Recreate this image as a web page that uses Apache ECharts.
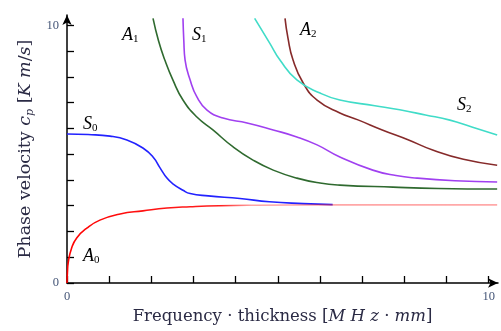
<!DOCTYPE html>
<html>
<head>
<meta charset="utf-8">
<script src="https://cdn.jsdelivr.net/npm/echarts@6.0.0/dist/echarts.min.js"></script>
<style>
html,body{margin:0;padding:0;background:#fff;}
#main{width:501px;height:331px;}
</style>
</head>
<body>
<div id="main"></div>
<script>
// tick values of both axes
var xTicks = [0,1,2,3,4,5,6,7,8,9,10],
	yTicks = [0,1,2,3,4,5,6,7,8,9,10],
	xLabels = [0,10],
	yLabels = [0,10];

// dispersion curves, [fd, cp]
var a0Data = [[0,0],[0.01,0.4],[0.03,0.8],[0.11,1.36],[0.23,1.75],[0.47,2.13],[0.78,2.44],[1.26,2.68],[1.8,2.8],[2.37,2.91],[2.92,2.96],[3.6,3.0],[4.5,3.02],[6,3.03],[8,3.03],[10.2,3.03]],
	s0Data = [[0,5.78],[0.5,5.76],[1.02,5.7],[1.42,5.55],[1.8,5.24],[2.04,4.89],[2.21,4.46],[2.37,4.07],[2.51,3.85],[2.75,3.6],[2.92,3.47],[3.35,3.38],[4.1,3.28],[4.8,3.15],[5.6,3.08],[6.3,3.04]],
	a1Data = [[2.04,10.27],[2.17,9.4],[2.32,8.65],[2.51,7.88],[2.75,7.1],[3.08,6.44],[3.46,5.94],[3.94,5.28],[4.41,4.77],[4.89,4.38],[5.45,4.07],[6.0,3.88],[6.47,3.8],[7.73,3.72],[8.8,3.67],[10.2,3.65]],
	s1Data = [[2.75,10.27],[2.77,9.4],[2.8,8.65],[2.92,7.88],[3.08,7.22],[3.32,6.71],[3.7,6.4],[4.27,6.21],[4.89,5.94],[5.45,5.67],[5.93,5.36],[6.47,4.89],[7.25,4.38],[7.8,4.17],[8.3,4.07],[9.2,3.97],[10.2,3.92]],
	a2Data = [[5.17,10.27],[5.24,9.5],[5.36,8.65],[5.6,7.76],[5.93,7.1],[6.47,6.6],[6.9,6.33],[7.49,5.93],[8.1,5.55],[8.67,5.16],[9.4,4.8],[10.2,4.57]],
	s2Data = [[4.45,10.27],[4.81,9.3],[5.05,8.65],[5.45,7.88],[6.0,7.37],[6.47,7.1],[7.3,6.88],[7.89,6.72],[8.5,6.52],[9.08,6.32],[9.6,6.05],[10.2,5.74]];

var serif = '"Liberation Serif", "DejaVu Serif", serif',
	nameFont = '"DejaVu Serif", serif',
	txtColor = '#2a2a44';

//线条
function curve(name, data, color){
	return {
		name: name,
		type: 'line',
		data: data,
		smooth: 0.5,
		showSymbol: false,
		symbol: 'none',
		clip: false,
		lineStyle: {color: color, width: 1.6}
	};
}

//曲线名字 A_1 S_1 ...
function modeText(main, sub, x, y){
	return {
		type: 'text',
		x: x,
		y: y,
		style: {
			text: '{m|' + main + '}{s|' + sub + '}',
			rich: {
				m: {fontFamily: serif, fontStyle: 'italic', fontSize: 18, color: txtColor, lineHeight: 20},
				s: {fontFamily: serif, fontSize: 11, color: txtColor, verticalAlign: 'bottom', lineHeight: 12}
			}
		}
	};
}

var myChart = echarts.init(document.getElementById('main'));

// A0 变浅
var a0Color = new echarts.graphic.LinearGradient(0, 0, 1, 0, [
	{offset: 0, color: 'rgba(255,0,0,1)'},
	{offset: 0.36, color: 'rgba(255,20,20,0.95)'},
	{offset: 0.43, color: 'rgba(255,40,40,0.42)'},
	{offset: 1, color: 'rgba(255,40,40,0.4)'}
]);

var option = {
	animation: false,
	backgroundColor: '#fff',
	grid: {left: 67, right: 3, top: 15, bottom: 48},
	xAxis: {
		type: 'value',
		min: 0,
		max: 10.22,
		name: 'Frequency · thickness [{i|M H z} · {i|mm}]',
		nameLocation: 'middle',
		nameGap: 19,
		nameTextStyle: {
			fontFamily: nameFont, fontSize: 16.5, color: txtColor, verticalAlign: 'top',
			rich: {i: {fontFamily: nameFont, fontStyle: 'italic', fontSize: 16.5, color: txtColor}}
		},
		axisLine: {show: true, lineStyle: {color: '#000', width: 1.5}, symbol: ['none', 'arrow'], symbolSize: [7, 10]},
		axisTick: {show: true, inside: true, length: 7, lineStyle: {color: '#000', width: 1.3}, customValues: xTicks},
		axisLabel: {fontFamily: serif, fontSize: 12.5, color: '#445577', customValues: xLabels, margin: 7},
		splitLine: {show: false}
	},
	yAxis: {
		type: 'value',
		min: 0,
		max: 10.4,
		name: 'Phase velocity {i|c}{s|p} [{i|K m}/{i|s}]',
		nameLocation: 'middle',
		nameRotate: 90,
		nameGap: 25,
		nameTextStyle: {
			fontFamily: nameFont, fontSize: 17.5, color: txtColor, lineHeight: 20,
			rich: {
				i: {fontFamily: nameFont, fontStyle: 'italic', fontSize: 17.5, color: txtColor, lineHeight: 20},
				s: {fontFamily: nameFont, fontStyle: 'italic', fontSize: 11, color: txtColor, verticalAlign: 'bottom', lineHeight: 12}
			}
		},
		axisLine: {show: true, lineStyle: {color: '#000', width: 1.5}, symbol: ['none', 'arrow'], symbolSize: [7, 10]},
		axisTick: {show: true, inside: true, length: 7, lineStyle: {color: '#000', width: 1.3}, customValues: yTicks},
		axisLabel: {fontFamily: serif, fontSize: 12.5, color: '#445577', customValues: yLabels, margin: 8},
		splitLine: {show: false}
	},
	series: [
		curve('S0', s0Data, '#2222ff'),
		curve('A0', a0Data, a0Color),
		curve('A1', a1Data, '#2f6a2f'),
		curve('S1', s1Data, '#a040f0'),
		curve('A2', a2Data, '#862a2a'),
		curve('S2', s2Data, '#40dcc8')
	],
	graphic: [
		modeText('A', '1', 122, 25),
		modeText('S', '1', 192, 25),
		modeText('A', '2', 300, 20),
		modeText('S', '2', 457, 95),
		modeText('S', '0', 83, 114),
		modeText('A', '0', 83, 246)
	]
};

myChart.setOption(option);
</script>
</body>
</html>
